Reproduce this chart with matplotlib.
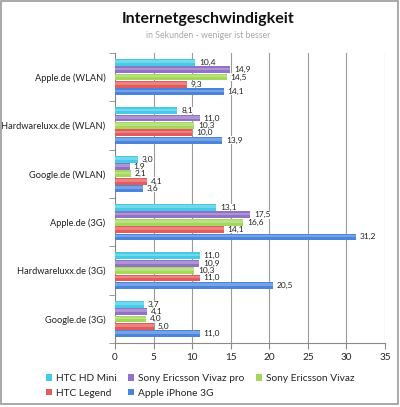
import matplotlib
matplotlib.use("Agg")
import matplotlib.pyplot as plt
import numpy as np
from matplotlib.patches import Rectangle, Patch

categories = ["Apple.de (WLAN)", "Hardwareluxx.de (WLAN)", "Google.de (WLAN)",
              "Apple.de (3G)", "Hardwareluxx.de (3G)", "Google.de (3G)"]
series_names = ["HTC HD Mini", "Sony Ericsson Vivaz pro", "Sony Ericsson Vivaz",
                "HTC Legend", "Apple iPhone 3G"]
htc_hd_mini = [10.4, 8.1, 3.0, 13.1, 11.0, 3.7]
vivaz_pro = [14.9, 11.0, 1.9, 17.5, 10.9, 4.1]
vivaz = [14.5, 10.3, 2.1, 16.6, 10.3, 4.0]
htc_legend = [9.3, 10.0, 4.1, 14.1, 11.0, 5.0]
iphone_3g = [14.1, 13.9, 3.6, 31.2, 20.5, 11.0]
series_values = [htc_hd_mini, vivaz_pro, vivaz, htc_legend, iphone_3g]
colors = ["#45CBE6", "#9272C6", "#A3D85A", "#E55A5A", "#4A84DB"]
xticks = [0, 5, 10, 15, 20, 25, 30, 35]

plt.rcParams['font.family'] = ['Lato', 'DejaVu Sans']

fig = plt.figure(figsize=(4.0, 4.07), dpi=100)
fig.patches.append(Rectangle((0.003, 0.007), 0.992, 0.99, transform=fig.transFigure,
                             fill=False, edgecolor="#9a9a9a", linewidth=1.2))

ax = fig.add_axes([0.2875, 0.157, 0.675, 0.713])
n = len(categories)
y = np.arange(n)
h = 0.152
for j, (vals, c, name) in enumerate(zip(series_values, colors, series_names)):
    pos = y + (j - 2) * h
    ax.barh(pos, vals, height=h * 0.92, color=c, edgecolor="none", zorder=3)
    # lighter highlight on top half
    ax.barh(pos - h * 0.12, vals, height=h * 0.35, color="white", alpha=0.25,
            edgecolor="none", zorder=4)
    for p, v in zip(pos, vals):
        ax.text(v + 0.5, p, f"{v:.1f}".replace(".", ","), va="center", ha="left",
                fontsize=6.0, color="#222222", zorder=5,
                bbox=dict(facecolor="white", edgecolor="none", pad=0.1))

ax.set_xlim(0, 35)
ax.set_ylim(n - 0.5, -0.5)
ax.set_xticks(xticks)
ax.set_xticklabels([str(t) for t in xticks], fontsize=7.2, color="#222222")
ax.set_yticks(y)
ax.set_yticklabels(categories, fontsize=6.7, color="#222222")
ax.set_yticks(np.arange(-0.5, n, 1.0), minor=True)
ax.tick_params(axis="y", which="major", length=0, pad=7)
ax.tick_params(axis="y", which="minor", length=4, color="#8a8a8a")
ax.tick_params(axis="x", length=4, color="#8a8a8a", pad=3)
ax.grid(axis="x", color="#9a9a9a", linewidth=0.8, zorder=0)
for s in ["top", "right"]:
    ax.spines[s].set_visible(False)
for s in ["left", "bottom"]:
    ax.spines[s].set_color("#8a8a8a")
    ax.spines[s].set_linewidth(0.8)

fig.text(0.52, 0.954, "Internetgeschwindigkeit", ha="center", va="center",
         fontsize=11.5, fontweight="bold", color="#111111")
fig.text(0.52, 0.913, "in Sekunden - weniger ist besser", ha="center", va="center",
         fontsize=6.3, color="#a8a8a8")

handles = [Patch(facecolor=c, edgecolor="none") for c in colors]
order = [0, 3, 1, 4, 2]
leg = fig.legend([handles[i] for i in order], [series_names[i] for i in order],
                 ncol=3, loc="upper left", bbox_to_anchor=(0.115, 0.081),
                 frameon=False, fontsize=7.3, handlelength=0.6, handleheight=0.6,
                 handletextpad=0.4, columnspacing=1.1, labelspacing=0.55,
                 borderaxespad=0, borderpad=0)
for t in leg.get_texts():
    t.set_color("#222222")

fig.savefig("out.png", dpi=100)
